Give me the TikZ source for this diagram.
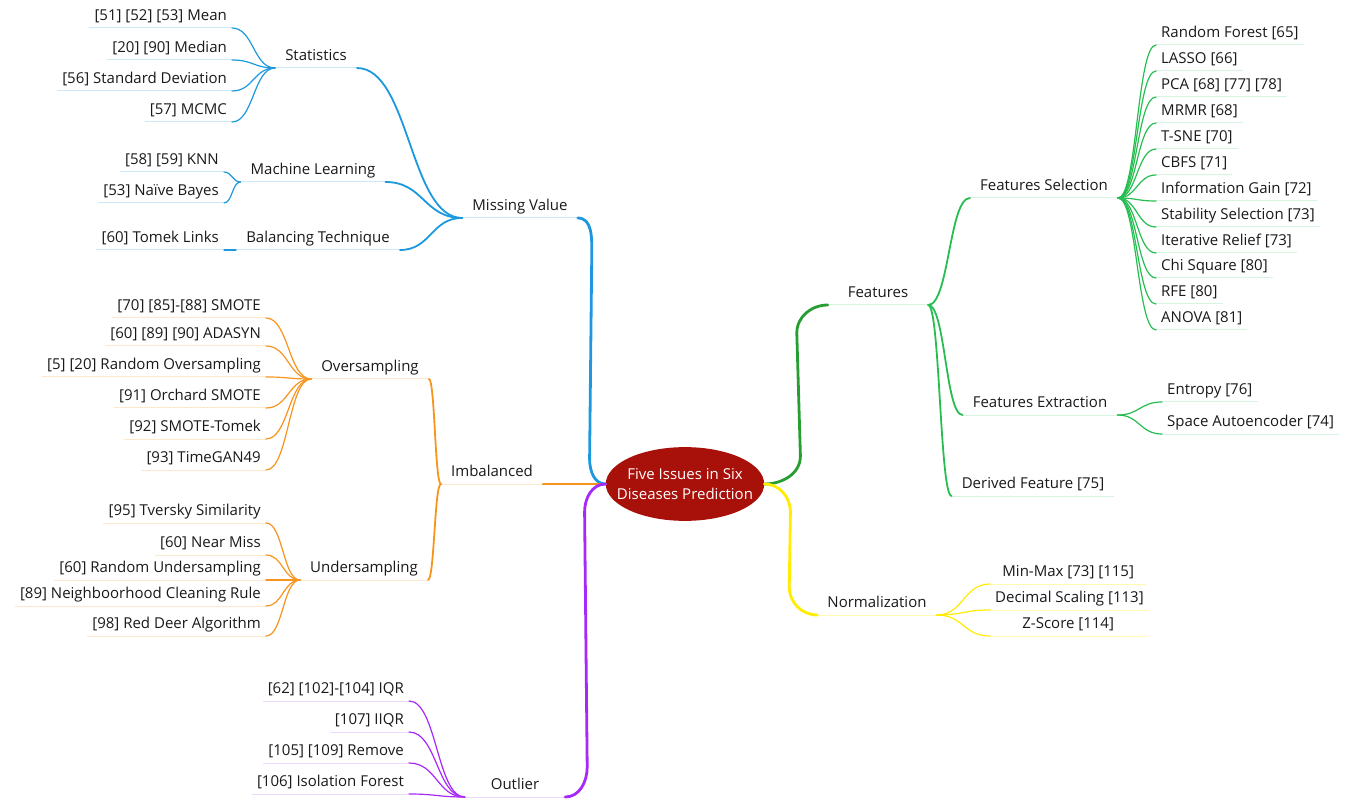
\documentclass[tikz,border=0pt]{standalone}
\usepackage{fontspec}
\setmainfont{Open Sans}
\usetikzlibrary{shapes.geometric, calc}
\definecolor{rootred}{RGB}{168, 16, 10}
\definecolor{mvblue}{RGB}{28, 152, 222}
\definecolor{imorange}{RGB}{247, 148, 29}
\definecolor{outpurple}{RGB}{168, 40, 250}
\definecolor{featgreen}{RGB}{40, 158, 50}
\definecolor{leafgreen}{RGB}{38, 190, 80}
\definecolor{normyellow}{RGB}{255, 236, 0}

\begin{document}
\begin{tikzpicture}[
  x=1pt, y=-1pt, font=\fontsize{15}{20}\selectfont, text=black!90,
  topic/.style={inner ysep=3pt, text height=11pt, text depth=4pt},
  main/.style={topic, inner xsep=10pt, minimum width=100pt, anchor=south},
  sub/.style={topic, inner xsep=10pt, anchor=south},
  lleaf/.style={topic, inner xsep=5pt, anchor=south east},
  rleaf/.style={topic, inner xsep=5pt, anchor=south west},
  hs/.style={line cap=round, to path={.. controls ($(\tikztostart)!0.5!(\tikztotarget|-\tikztostart)$) and ($(\tikztotarget)!0.5!(\tikztostart|-\tikztotarget)$) .. (\tikztotarget)}},
  trunk/.style={line width=2.8pt, line cap=round},
  twig/.style={line width=1.8pt, hs},
  vein/.style={line width=1.2pt, hs},
  uline/.style={line width=1pt},
  root/.style={ellipse, fill=rootred, text=white, inner xsep=-12pt, inner ysep=10.5pt, align=center}
]
  \useasboundingbox (0,0) rectangle (1352,799);

  \node[root] (root) at (685,484) {Five Issues in Six\\Diseases Prediction};

  % missing value
  \node[main] (mv) at (520,218) {Missing Value};
  \node[sub] (stat) at (316,68) {Statistics};
  \node[sub] (ml) at (313,182) {Machine Learning};
  \node[sub] (bal) at (318,250) {Balancing Technique};
  \foreach \n/\y/\t in {mean/28/{[51] [52] [53] Mean}, median/60/{[20] [90] Median},
      sd/91/{[56] Standard Deviation}, mcmc/122/{[57] MCMC}}
    \node[lleaf] (\n) at (232,\y) {\t};
  \node[lleaf] (knn) at (224,172) {[58] [59] KNN};
  \node[lleaf] (bayes) at (224,203) {[53] Naïve Bayes};
  \node[lleaf] (tomek) at (224,250) {[60] Tomek Links};

  % imbalanced
  \node[main] (imb) at (492,484) {Imbalanced};
  \node[sub] (over) at (370,379) {Oversampling};
  \node[sub] (under) at (364,580) {Undersampling};
  \foreach \n/\y/\t in {smote/318/{[70] [85]-[88] SMOTE}, adasyn/346/{[60] [89] [90] ADASYN},
      ros/377/{[5] [20] Random Oversampling}, orchard/408/{[91] Orchard SMOTE},
      smtomek/439/{[92] SMOTE-Tomek}, timegan/470/{[93] TimeGAN49},
      tversky/523/{[95] Tversky Similarity}, nearmiss/555/{[60] Near Miss},
      rus/580/{[60] Random Undersampling}, ncr/606/{[89] Neighboorhood Cleaning Rule},
      rda/636/{[98] Red Deer Algorithm}}
    \node[lleaf] (\n) at (266,\y) {\t};

  % outlier
  \node[main] (out) at (515,797) {Outlier};
  \foreach \n/\y/\t in {iqr/701/{[62] [102]-[104] IQR}, iiqr/732/{[107] IIQR},
      remove/763/{[105] [109] Remove}, iso/794/{[106] Isolation Forest}}
    \node[lleaf] (\n) at (409,\y) {\t};

  % features
  \node[main] (feat) at (878,305) {Features};
  \node[sub] (fs) at (1044,198) {Features Selection};
  \node[sub] (fe) at (1040,415) {Features Extraction};
  \node[sub] (df) at (1033,496) {Derived Feature [75]};
  \foreach \n/\y/\t in {rf/45/{Random Forest [65]}, lasso/71/{LASSO [66]},
      pca/97/{PCA [68] [77] [78]}, mrmr/123/{MRMR [68]}, tsne/149/{T-SNE [70]},
      cbfs/175/{CBFS [71]}, ig/201/{Information Gain [72]}, ss/227/{Stability Selection [73]},
      ir/253/{Iterative Relief [73]}, chi/278/{Chi Square [80]}, rfe/304/{RFE [80]},
      anova/330/{ANOVA [81]}}
    \node[rleaf] (\n) at (1156,\y) {\t};
  \node[rleaf] (ent) at (1162,402) {Entropy [76]};
  \node[rleaf] (sae) at (1162,434) {Space Autoencoder [74]};

  % normalization
  \node[main] (norm) at (877,615) {Normalization};
  \node[rleaf, minimum width=156pt] (minmax) at (990,584) {Min-Max [73] [115]};
  \node[rleaf, minimum width=156pt] (dec) at (990,610) {Decimal Scaling [113]};
  \node[rleaf, minimum width=156pt] (zs) at (990,636) {Z-Score [114]};

  % underlines
  \foreach \n in {mv, stat, ml, bal, mean, median, sd, mcmc, knn, bayes, tomek}
    \draw[uline, mvblue!22] (\n.south west) -- (\n.south east);
  \foreach \n in {imb, over, under, smote, adasyn, ros, orchard, smtomek, timegan, tversky, nearmiss, rus, ncr, rda}
    \draw[uline, imorange!22] (\n.south west) -- (\n.south east);
  \foreach \n in {out, iqr, iiqr, remove, iso}
    \draw[uline, outpurple!18] (\n.south west) -- (\n.south east);
  \foreach \n in {feat, fs, fe, df, rf, lasso, pca, mrmr, tsne, cbfs, ig, ss, ir, chi, rfe, anova, ent, sae}
    \draw[uline, leafgreen!18] (\n.south west) -- (\n.south east);
  \foreach \n in {norm, minmax, dec, zs}
    \draw[uline, normyellow!30] (\n.south west) -- (\n.south east);

  % branches
  \foreach \n in {mean, median, sd, mcmc}
    \draw[mvblue, vein] (\n.south east) to (stat.south west);
  \foreach \n in {knn, bayes}
    \draw[mvblue, vein] (\n.south east) to (ml.south west);
  \draw[mvblue, vein] (tomek.south east) to (bal.south west);
  \foreach \n in {stat, ml, bal}
    \draw[mvblue, twig] (\n.south east) to (mv.south west);

  \foreach \n in {smote, adasyn, ros, orchard, smtomek, timegan}
    \draw[imorange, vein] (\n.south east) to (over.south west);
  \foreach \n in {tversky, nearmiss, rus, ncr, rda}
    \draw[imorange, vein] (\n.south east) to (under.south west);
  \foreach \n in {over, under}
    \draw[imorange, twig] (\n.south east) to (imb.south west);

  \foreach \n in {iqr, iiqr, remove, iso}
    \draw[outpurple, vein] (\n.south east) to (out.south west);

  \foreach \n in {rf, lasso, pca, mrmr, tsne, cbfs, ig, ss, ir, chi, rfe, anova}
    \draw[leafgreen, vein] (fs.south east) to (\n.south west);
  \foreach \n in {ent, sae}
    \draw[leafgreen, vein] (fe.south east) to (\n.south west);
  \foreach \n in {fs, fe, df}
    \draw[leafgreen, twig] (feat.south east) to (\n.south west);

  \foreach \n in {minmax, dec, zs}
    \draw[normyellow, vein] (norm.south east) to (\n.south west);

  % trunks
  \draw[mvblue, trunk] (mv.south east) to[out=0, in=90] ++(14,35)
    -- ($(root.west)+(-16,-25)$) to[out=-90, in=180] (root.west);
  \draw[imorange, trunk] (imb.south east) -- (root.west);
  \draw[outpurple, trunk] (out.south east) to[out=0, in=-90] ++(22,-30)
    -- ($(root.west)+(-21,28)$) to[out=90, in=180] (root.west);
  \draw[featgreen, trunk] (root.east) to[out=0, in=-90] ++(36,-28)
    -- ($(feat.south west)+(-31,28)$) to[out=90, in=180] (feat.south west);
  \draw[normyellow, trunk] (root.east) to[out=0, in=90] ++(26,28)
    -- ($(norm.south west)+(-28,-28)$) to[out=-90, in=180] (norm.south west);
\end{tikzpicture}
\end{document}
